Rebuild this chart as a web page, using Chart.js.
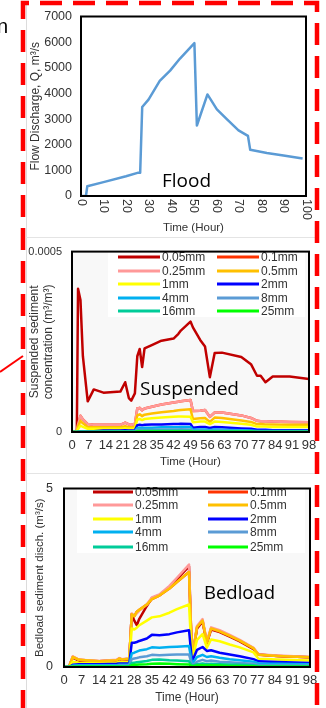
<!DOCTYPE html>
<html>
<head>
<meta charset="utf-8">
<script src="https://cdn.jsdelivr.net/npm/chart.js@4.4.1/dist/chart.umd.min.js"></script>
<style>
html, body { margin: 0; padding: 0; background: #fff; }
body { width: 326px; height: 708px; position: relative; overflow: hidden; font-family: "Liberation Sans", Arial, sans-serif; }
canvas { position: absolute; left: 0; }
.note { position: absolute; font-family: "Open Sans", sans-serif; color: #000; white-space: nowrap; line-height: 1; }
svg { position: absolute; left: 0; top: 0; }
</style>
</head>
<body>
<canvas id="flood" width="326" height="235" style="top:0"></canvas>
<canvas id="susp" width="326" height="235" style="top:235px"></canvas>
<canvas id="bed" width="326" height="238" style="top:470px"></canvas>

<div class="note" style="left:-3px;top:16px;font-family:'Liberation Sans',Arial;font-size:20px">n</div>
<div class="note" style="left:162px;top:171px;font-size:19px">Flood</div>
<div class="note" style="left:140px;top:379px;font-size:19px">Suspended</div>
<div class="note" style="left:204px;top:583px;font-size:18.5px">Bedload</div>

<svg width="326" height="708">
  <line x1="26.5" y1="5" x2="26.5" y2="708" stroke="#dcdcdc" stroke-width="1"/>
  <line x1="26" y1="237.5" x2="315" y2="237.5" stroke="#e4e4e4" stroke-width="1"/>
  <line x1="26" y1="473.5" x2="315" y2="473.5" stroke="#e4e4e4" stroke-width="1"/>
  <path d="M23,712 V3 H317 V712" fill="none" stroke="#ff0000" stroke-width="4.5" stroke-dasharray="22 11"/>
  <line x1="0" y1="372" x2="23" y2="356" stroke="#ff0000" stroke-width="2"/>
</svg>

<script>
// ---- Flood hydrograph ----
const flowHours = [0, 2.2, 2.8, 10, 20, 25.5, 26.3, 27.2, 30, 35, 39.6, 44, 50.4, 51.5, 56.2, 60.4, 64.8, 70, 74.2, 75.2, 82.6, 90, 98.5];
const flowQ     = [0, 0, 380, 540, 770, 910, 910, 3470, 3760, 4490, 4890, 5360, 5960, 2750, 3960, 3380, 3000, 2560, 2345, 1800, 1680, 1580, 1460];

// ---- grain sizes ----
const sizeLabels = ['0.05mm', '0.1mm', '0.25mm', '0.5mm', '1mm', '2mm', '4mm', '8mm', '16mm', '25mm'];
const sizeColors = ['#c00000', '#ff3300', '#ff9999', '#ffc000', '#ffff00', '#0000ff', '#00b0f0', '#5b9bd5', '#00cc99', '#00ff00'];

// ---- suspended sediment concentration (m3/m3) ----
const susHours = [0, 2, 2.5, 3.5, 4.5, 6.5, 9, 13, 20, 22, 23.5, 24.5, 26, 27, 28, 29, 30, 33, 37, 42, 44, 45, 49, 50, 53, 55, 57, 59, 62, 70, 74, 76.5, 78, 80, 83, 90, 98];
const sus005 = [0, 2e-6, 3.97e-4, 3.66e-4, 2.10e-4, 0.85e-4, 1.18e-4, 1.09e-4, 1.12e-4, 1.38e-4, 0.94e-4, 0.87e-4, 1.07e-4, 2.10e-4, 2.30e-4, 1.80e-4, 2.32e-4, 2.41e-4, 2.53e-4, 2.59e-4, 2.72e-4, 2.81e-4, 3.06e-4, 2.90e-4, 2.55e-4, 2.37e-4, 1.52e-4, 2.19e-4, 2.20e-4, 2.08e-4, 1.88e-4, 1.56e-4, 1.56e-4, 1.38e-4, 1.54e-4, 1.54e-4, 1.47e-4];
const sus01  = [0, 3e-6, 2.0e-5, 4.5e-5, 3.5e-5, 2.2e-5, 2.0e-5, 2.0e-5, 2.0e-5, 2.6e-5, 2.1e-5, 2.0e-5, 2.2e-5, 6.5e-5, 6.7e-5, 6.0e-5, 6.5e-5, 7.0e-5, 7.6e-5, 8.2e-5, 8.4e-5, 8.5e-5, 8.9e-5, 5.8e-5, 5.9e-5, 6.1e-5, 4.2e-5, 5.4e-5, 5.4e-5, 4.6e-5, 3.9e-5, 3.1e-5, 3.0e-5, 3.0e-5, 2.9e-5, 2.8e-5, 2.7e-5];
const sus025 = [0, 3e-6, 2.0e-5, 4.5e-5, 3.5e-5, 2.2e-5, 2.0e-5, 2.0e-5, 2.0e-5, 2.6e-5, 2.1e-5, 2.0e-5, 2.2e-5, 6.5e-5, 6.7e-5, 6.0e-5, 6.5e-5, 7.0e-5, 7.6e-5, 8.2e-5, 8.4e-5, 8.5e-5, 8.9e-5, 5.8e-5, 5.9e-5, 6.1e-5, 4.2e-5, 5.4e-5, 5.4e-5, 4.6e-5, 3.9e-5, 3.1e-5, 3.0e-5, 3.0e-5, 2.9e-5, 2.8e-5, 2.7e-5];
const sus05  = [0, 2e-6, 1.5e-5, 3.1e-5, 2.4e-5, 1.4e-5, 1.3e-5, 1.3e-5, 1.3e-5, 1.6e-5, 1.3e-5, 1.3e-5, 1.4e-5, 4.6e-5, 4.9e-5, 4.4e-5, 4.8e-5, 5.1e-5, 5.5e-5, 5.8e-5, 6.0e-5, 6.1e-5, 6.3e-5, 3.6e-5, 3.8e-5, 3.9e-5, 2.8e-5, 4.0e-5, 3.9e-5, 3.2e-5, 2.8e-5, 2.2e-5, 2.2e-5, 2.1e-5, 2.1e-5, 2.0e-5, 2.0e-5];
const sus1   = [0, 1e-6, 0.8e-5, 1.8e-5, 1.4e-5, 0.9e-5, 0.9e-5, 0.9e-5, 0.9e-5, 1.0e-5, 0.9e-5, 0.9e-5, 1.0e-5, 3.4e-5, 3.6e-5, 3.3e-5, 3.6e-5, 3.8e-5, 4.0e-5, 4.2e-5, 4.3e-5, 4.3e-5, 4.2e-5, 2.7e-5, 2.9e-5, 2.9e-5, 2.2e-5, 2.9e-5, 2.8e-5, 2.3e-5, 2.0e-5, 1.5e-5, 1.5e-5, 1.5e-5, 1.4e-5, 1.4e-5, 1.4e-5];
const sus2   = [0, 0, 0.1e-5, 0.2e-5, 0.2e-5, 0.2e-5, 0.2e-5, 0.4e-5, 0.45e-5, 0.5e-5, 0.45e-5, 0.45e-5, 0.5e-5, 1.9e-5, 2.0e-5, 1.9e-5, 2.0e-5, 2.1e-5, 2.1e-5, 2.2e-5, 2.2e-5, 2.3e-5, 2.2e-5, 1.2e-5, 1.4e-5, 1.4e-5, 1.1e-5, 1.4e-5, 1.3e-5, 1.0e-5, 0.9e-5, 0.6e-5, 0.6e-5, 0.6e-5, 0.5e-5, 0.5e-5, 0.5e-5];
const sus4   = [0, 0, 0.05e-5, 0.1e-5, 0.1e-5, 0.1e-5, 0.1e-5, 0.15e-5, 0.2e-5, 0.2e-5, 0.2e-5, 0.2e-5, 0.2e-5, 1.1e-5, 1.2e-5, 1.1e-5, 1.2e-5, 1.2e-5, 1.3e-5, 1.3e-5, 1.35e-5, 1.4e-5, 1.4e-5, 0.6e-5, 0.7e-5, 0.7e-5, 0.55e-5, 0.7e-5, 0.65e-5, 0.5e-5, 0.45e-5, 0.3e-5, 0.3e-5, 0.3e-5, 0.3e-5, 0.3e-5, 0.3e-5];
const sus8   = [0, 0, 0.03e-5, 0.05e-5, 0.05e-5, 0.05e-5, 0.05e-5, 0.08e-5, 0.1e-5, 0.1e-5, 0.1e-5, 0.1e-5, 0.1e-5, 0.6e-5, 0.65e-5, 0.6e-5, 0.65e-5, 0.65e-5, 0.7e-5, 0.7e-5, 0.7e-5, 0.75e-5, 0.7e-5, 0.3e-5, 0.35e-5, 0.35e-5, 0.3e-5, 0.35e-5, 0.33e-5, 0.25e-5, 0.22e-5, 0.15e-5, 0.15e-5, 0.15e-5, 0.15e-5, 0.15e-5, 0.15e-5];
const sus16  = [0, 0, 0.01e-5, 0.03e-5, 0.03e-5, 0.03e-5, 0.03e-5, 0.04e-5, 0.05e-5, 0.05e-5, 0.05e-5, 0.05e-5, 0.05e-5, 0.3e-5, 0.32e-5, 0.3e-5, 0.32e-5, 0.33e-5, 0.35e-5, 0.35e-5, 0.35e-5, 0.36e-5, 0.35e-5, 0.15e-5, 0.17e-5, 0.17e-5, 0.14e-5, 0.17e-5, 0.16e-5, 0.12e-5, 0.11e-5, 0.08e-5, 0.08e-5, 0.08e-5, 0.08e-5, 0.08e-5, 0.08e-5];
const sus25  = [0, 0, 0.01e-5, 0.01e-5, 0.01e-5, 0.01e-5, 0.01e-5, 0.02e-5, 0.02e-5, 0.02e-5, 0.02e-5, 0.02e-5, 0.02e-5, 0.12e-5, 0.13e-5, 0.12e-5, 0.13e-5, 0.13e-5, 0.14e-5, 0.14e-5, 0.14e-5, 0.14e-5, 0.14e-5, 0.06e-5, 0.07e-5, 0.07e-5, 0.06e-5, 0.07e-5, 0.06e-5, 0.05e-5, 0.05e-5, 0.03e-5, 0.03e-5, 0.03e-5, 0.03e-5, 0.03e-5, 0.03e-5];

// ---- bedload sediment discharge (m3/s) ----
const bedHours = [0, 2, 3.5, 6, 14, 21, 22, 23, 26, 27, 28, 29, 30, 33, 35, 38, 42, 45, 49.8, 51, 53, 55.2, 56.9, 58.6, 62, 66, 70, 75.5, 77.5, 85, 98];
const bed005 = [0, 0.01, 0.27, 0.17, 0.16, 0.18, 0.22, 0.20, 0.22, 1.48, 1.30, 1.17, 1.35, 1.71, 1.93, 2.01, 2.24, 2.46, 2.82, 0.23, 1.08, 1.27, 0.66, 1.05, 0.98, 0.85, 0.72, 0.50, 0.35, 0.31, 0.27];
const bed01  = [0, 0.01, 0.28, 0.20, 0.16, 0.19, 0.24, 0.21, 0.23, 1.48, 1.42, 1.55, 1.60, 1.75, 1.90, 2.00, 2.20, 2.38, 2.66, 0.24, 1.12, 1.30, 0.68, 1.08, 1.00, 0.87, 0.74, 0.52, 0.34, 0.31, 0.27];
const bed025 = [0, 0.01, 0.30, 0.20, 0.17, 0.20, 0.25, 0.22, 0.24, 1.50, 1.43, 1.50, 1.58, 1.75, 1.95, 2.03, 2.27, 2.50, 2.87, 0.25, 1.15, 1.34, 0.72, 1.11, 1.03, 0.90, 0.76, 0.54, 0.35, 0.32, 0.28];
const bed05  = [0, 0.01, 0.28, 0.20, 0.16, 0.19, 0.24, 0.21, 0.23, 1.48, 1.42, 1.55, 1.60, 1.75, 1.90, 2.00, 2.20, 2.38, 2.66, 0.24, 1.12, 1.30, 0.68, 1.08, 1.00, 0.87, 0.74, 0.52, 0.34, 0.31, 0.27];
const bed1   = [0, 0, 0.15, 0.12, 0.10, 0.12, 0.14, 0.13, 0.14, 1.08, 1.05, 1.10, 1.17, 1.30, 1.39, 1.42, 1.52, 1.62, 1.75, 0.19, 0.76, 0.92, 0.54, 0.77, 0.72, 0.63, 0.55, 0.41, 0.23, 0.21, 0.18];
const bed2   = [0, 0, 0.06, 0.08, 0.08, 0.09, 0.10, 0.10, 0.10, 0.68, 0.68, 0.70, 0.73, 0.80, 0.90, 0.89, 0.92, 0.97, 1.03, 0.15, 0.48, 0.56, 0.45, 0.47, 0.40, 0.35, 0.30, 0.22, 0.16, 0.14, 0.11];
const bed4   = [0, 0, 0.04, 0.05, 0.05, 0.05, 0.06, 0.06, 0.06, 0.38, 0.40, 0.43, 0.46, 0.50, 0.55, 0.54, 0.56, 0.57, 0.59, 0.09, 0.28, 0.34, 0.28, 0.30, 0.26, 0.22, 0.19, 0.15, 0.10, 0.09, 0.08];
const bed8   = [0, 0, 0.02, 0.03, 0.03, 0.03, 0.04, 0.04, 0.04, 0.22, 0.24, 0.25, 0.27, 0.30, 0.34, 0.33, 0.34, 0.35, 0.35, 0.05, 0.15, 0.20, 0.16, 0.18, 0.15, 0.13, 0.11, 0.09, 0.05, 0.05, 0.04];
const bed16  = [0, 0, 0.01, 0.02, 0.02, 0.02, 0.02, 0.02, 0.02, 0.11, 0.12, 0.13, 0.14, 0.17, 0.20, 0.21, 0.19, 0.18, 0.16, 0.03, 0.08, 0.10, 0.08, 0.09, 0.08, 0.07, 0.06, 0.05, 0.03, 0.03, 0.02];
const bed25  = [0, 0, 0.01, 0.01, 0.01, 0.01, 0.01, 0.01, 0.01, 0.05, 0.06, 0.06, 0.07, 0.08, 0.09, 0.10, 0.09, 0.08, 0.07, 0.02, 0.04, 0.05, 0.04, 0.05, 0.04, 0.03, 0.03, 0.02, 0.01, 0.01, 0.01];

const susSeries = [sus005, sus01, sus025, sus05, sus1, sus2, sus4, sus8, sus16, sus25];
const bedSeries = [bed005, bed01, bed025, bed05, bed1, bed2, bed4, bed8, bed16, bed25];

Chart.defaults.font.family = '"Liberation Sans", Arial, sans-serif';
Chart.defaults.color = '#333';

const toPoints = (hours, vals) => hours.map((h, i) => ({ x: h, y: vals[i] }));

// plot area fill + black frame
const frame = {
  id: 'frame',
  beforeDatasetsDraw(chart, args, opts) {
    const a = chart.chartArea, ctx = chart.ctx;
    ctx.save();
    ctx.fillStyle = opts.bg || '#fff';
    ctx.fillRect(a.left, a.top, a.right - a.left, a.bottom - a.top);
    ctx.restore();
  },
  afterDraw(chart) {
    const a = chart.chartArea, ctx = chart.ctx;
    ctx.save();
    ctx.strokeStyle = '#000';
    ctx.lineWidth = 2;
    ctx.strokeRect(a.left, a.top, a.right - a.left, a.bottom - a.top);
    ctx.restore();
  }
};

// two column legend inside the plot
const sedLegend = {
  id: 'sedLegend',
  afterDatasetsDraw(chart, args, opts) {
    if (!opts.box) return;
    const ctx = chart.ctx;
    ctx.save();
    ctx.fillStyle = '#fff';
    ctx.fillRect(opts.box[0], opts.box[1], opts.box[2], opts.box[3]);
    ctx.font = '12px "Liberation Sans", Arial, sans-serif';
    ctx.textBaseline = 'middle';
    chart.data.datasets.forEach((ds, i) => {
      const x = opts.cols[i % 2], y = opts.rows[Math.floor(i / 2)];
      ctx.strokeStyle = ds.borderColor;
      ctx.lineWidth = 3;
      ctx.beginPath();
      ctx.moveTo(x, y);
      ctx.lineTo(x + opts.lineLen, y);
      ctx.stroke();
      ctx.fillStyle = '#333';
      ctx.fillText(ds.label, x + opts.lineLen + 2, y + 0.5);
    });
    ctx.restore();
  }
};

// x labels turned 90deg clockwise (flood panel)
const rotX = {
  id: 'rotX',
  afterDraw(chart, args, opts) {
    if (!opts.on) return;
    const sc = chart.scales.x, ctx = chart.ctx;
    ctx.save();
    ctx.font = '12.5px "Liberation Sans", Arial, sans-serif';
    ctx.fillStyle = '#333';
    ctx.textAlign = 'left';
    ctx.textBaseline = 'middle';
    sc.ticks.forEach(t => {
      ctx.save();
      ctx.translate(sc.getPixelForValue(t.value), chart.chartArea.bottom + 3);
      ctx.rotate(Math.PI / 2);
      ctx.fillText(String(t.value), 0, 0);
      ctx.restore();
    });
    ctx.restore();
  }
};

const noGrid = { display: false, drawTicks: false };

new Chart(document.getElementById('flood'), {
  type: 'line',
  data: {
    datasets: [{
      label: 'Flow', data: toPoints(flowHours, flowQ),
      borderColor: '#5b9bd5', borderWidth: 2.5, pointRadius: 0, tension: 0,
      borderJoinStyle: 'round'
    }]
  },
  options: {
    responsive: false, animation: false, events: [],
    layout: { padding: { top: 11, right: 20, bottom: 0, left: 0 } },
    plugins: { legend: { display: false }, tooltip: { enabled: false }, frame: { bg: '#fff' }, rotX: { on: true } },
    scales: {
      x: {
        type: 'linear', min: 0, max: 100,
        ticks: { display: false, stepSize: 10 },
        grid: noGrid, border: { display: false },
        title: { display: true, text: 'Time (Hour)', font: { size: 11.5 }, color: '#333', padding: 0 },
        afterFit: s => { s.height = 39; }
      },
      y: {
        min: 0, max: 7000,
        ticks: { stepSize: 1000, padding: 9, font: { size: 12.5 }, color: '#333', callback: v => String(v) },
        grid: noGrid, border: { display: false },
        title: { display: true, text: 'Flow Discharge, Q, m³/s', font: { size: 12 }, color: '#333', padding: { top: 28.8, bottom: 0 } },
        afterFit: s => { s.width = 81; }
      }
    }
  },
  plugins: [frame, rotX]
});

function sedChart(id, hours, series, cfg) {
  return new Chart(document.getElementById(id), {
    type: 'line',
    data: {
      datasets: series.map((vals, i) => ({
        label: sizeLabels[i], data: toPoints(hours, vals),
        borderColor: sizeColors[i], borderWidth: 2.5, pointRadius: 0, tension: 0,
        borderJoinStyle: 'round', order: -i
      }))
    },
    options: {
      responsive: false, animation: false, events: [],
      layout: { padding: { top: 10, right: cfg.padRight, bottom: 0, left: 0 } },
      plugins: {
        legend: { display: false }, tooltip: { enabled: false },
        frame: { bg: '#f8f8f8' },
        sedLegend: cfg.legend
      },
      scales: {
        x: {
          type: 'linear', min: 0, max: 98,
          ticks: { stepSize: 7, autoSkip: false, maxRotation: 0, minRotation: 0, padding: 6, font: { size: 13 }, color: '#333' },
          grid: noGrid, border: { display: false },
          title: { display: true, text: 'Time (Hour)', font: { size: cfg.xTitleSize }, color: '#333', padding: { top: 0, bottom: cfg.xTitlePad } },
          afterFit: s => { s.height = cfg.xHeight; }
        },
        y: {
          min: 0, max: cfg.yMax,
          ticks: { stepSize: cfg.yMax, padding: cfg.yTickPad, font: { size: cfg.yTickSize }, color: '#333', callback: v => String(v) },
          grid: noGrid, border: { display: false },
          title: { display: true, text: cfg.yTitle, font: { size: cfg.yTitleSize, lineHeight: 1.15 }, color: '#333', padding: { top: cfg.yTitlePad, bottom: 0 } },
          afterFit: s => { s.width = cfg.yWidth; }
        }
      }
    },
    plugins: [frame, sedLegend]
  });
}

sedChart('susp', susHours, susSeries, {
  padRight: 17, yMax: 0.0005, yWidth: 72, yTickPad: 10, yTickSize: 11,
  yTitle: ['Suspended sediment', 'concentration (m³/m³)'], yTitleSize: 12, yTitlePad: 28.1,
  xHeight: 38, xTitleSize: 11.5, xTitlePad: 1.1,
  legend: { box: [108, 17, 197, 65], cols: [118, 217], rows: [22, 36, 49, 63, 76], lineLen: 42 }
});

sedChart('bed', bedHours, bedSeries, {
  padRight: 16, yMax: 5, yWidth: 64, yTickPad: 11, yTickSize: 12.5,
  yTitle: 'Bedload sediment disch. (m³/s)', yTitleSize: 11.5, yTitlePad: 33.4,
  xHeight: 41, xTitleSize: 12, xTitlePad: 2.8,
  legend: { box: [77, 12, 228, 71], cols: [93, 208], rows: [22, 35, 49, 62, 77], lineLen: 40 }
});
</script>
</body>
</html>
